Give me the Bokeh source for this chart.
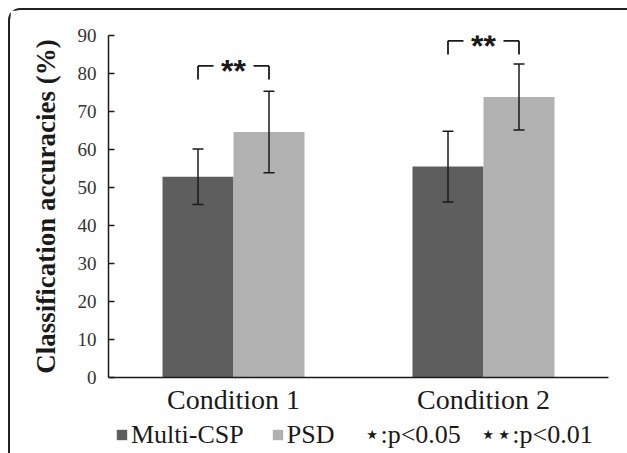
from bokeh.plotting import figure
from bokeh.layouts import column
from bokeh.models import (FactorRange, Range1d, ColumnDataSource, Whisker, TeeHead,
                          Legend, LegendItem)
from bokeh.transform import dodge
from bokeh.core.properties import value
from bokeh.embed import file_html
from bokeh.resources import INLINE

# ---------------- data ----------------
conditions = ["Condition 1", "Condition 2"]
series_names = ["Multi-CSP", "PSD"]
multi_csp_mean = [52.8, 55.5]
multi_csp_sd = [7.3, 9.3]
psd_mean = [64.6, 73.8]
psd_sd = [10.7, 8.7]
sig_level = [82.0, 88.6]
sig_marks = ["**", "**"]
y_ticks = [0, 10, 20, 30, 40, 50, 60, 70, 80, 90]
y_label = "Classification accuracies (%)"
legend_note = "\u22c6:p<0.05\u00a0\u00a0\u00a0\u22c6\u22c6:p<0.01"

# ---------------- styles ----------------
DARK = "#5e5e5e"
LIGHT = "#b1b1b1"
INK = "#1a1a1a"
SERIF = "Liberation Serif"
OFF = 0.142      # dodge offset of each bar from the category centre
BAR_W = 0.284
LEG = 3.6        # bracket leg length (data units)
GAP = 0.08       # half gap in bracket around the stars
NAN = float("nan")

src = ColumnDataSource(dict(
    cond=conditions,
    m1=multi_csp_mean,
    m1_lo=[m - s for m, s in zip(multi_csp_mean, multi_csp_sd)],
    m1_hi=[m + s for m, s in zip(multi_csp_mean, multi_csp_sd)],
    m2=psd_mean,
    m2_lo=[m - s for m, s in zip(psd_mean, psd_sd)],
    m2_hi=[m + s for m, s in zip(psd_mean, psd_sd)],
    sig=sig_level,
    sig_leg=[s - LEG for s in sig_level],
    mark=sig_marks,
))

p = figure(width=617, height=407,
           x_range=FactorRange(*conditions), y_range=Range1d(0, 90),
           output_backend="svg", toolbar_location=None,
           min_border_left=98, min_border_right=19,
           min_border_top=25, min_border_bottom=39)

p.vbar(x=dodge("cond", -OFF, range=p.x_range), top="m1", width=BAR_W,
       source=src, fill_color=DARK, line_color=None)
p.vbar(x=dodge("cond", OFF, range=p.x_range), top="m2", width=BAR_W,
       source=src, fill_color=LIGHT, line_color=None)

for off, lo, hi in [(-OFF, "m1_lo", "m1_hi"), (OFF, "m2_lo", "m2_hi")]:
    w = Whisker(source=src, base=dodge("cond", off, range=p.x_range),
                lower=lo, upper=hi, dimension="height", level="overlay",
                line_color=INK, line_width=1.5,
                lower_head=TeeHead(size=11, line_color=INK, line_width=1.5),
                upper_head=TeeHead(size=11, line_color=INK, line_width=1.5))
    p.add_layout(w)

# significance brackets
for a in (-OFF, OFF):
    p.segment(x0=dodge("cond", a, range=p.x_range), y0="sig",
              x1=dodge("cond", a, range=p.x_range), y1="sig_leg",
              source=src, line_color=INK, line_width=1.8)
p.segment(x0=dodge("cond", -OFF, range=p.x_range), y0="sig",
          x1=dodge("cond", -GAP, range=p.x_range), y1="sig",
          source=src, line_color=INK, line_width=1.8)
p.segment(x0=dodge("cond", GAP, range=p.x_range), y0="sig",
          x1=dodge("cond", OFF, range=p.x_range), y1="sig",
          source=src, line_color=INK, line_width=1.8)
p.text(x="cond", y="sig", text="mark", source=src,
       text_font=value("Liberation Sans"), text_font_style="bold",
       text_font_size="32px", text_color=INK, text_align="center",
       text_baseline="alphabetic", y_offset=5)

# axes
p.xgrid.visible = False
p.ygrid.visible = False
p.outline_line_color = None

p.yaxis.ticker = y_ticks
p.yaxis.axis_line_color = INK
p.yaxis.axis_line_width = 1.5
p.yaxis.major_tick_in = 6
p.yaxis.major_tick_out = 0
p.yaxis.major_tick_line_color = INK
p.yaxis.major_tick_line_width = 1.5
p.yaxis.minor_tick_line_color = None
p.yaxis.major_label_text_font = SERIF
p.yaxis.major_label_text_font_size = "19px"
p.yaxis.major_label_text_color = "#333333"
p.yaxis.major_label_standoff = 12
p.yaxis.axis_label = y_label
p.yaxis.axis_label_text_font = SERIF
p.yaxis.axis_label_text_font_style = "bold"
p.yaxis.axis_label_text_font_size = "27px"
p.yaxis.axis_label_text_color = INK
p.yaxis.axis_label_standoff = 14

p.xaxis.axis_line_color = INK
p.xaxis.axis_line_width = 1.5
p.xaxis.major_tick_in = 0
p.xaxis.major_tick_out = 0
p.xaxis.major_label_text_font = SERIF
p.xaxis.major_label_text_font_size = "28px"
p.xaxis.major_label_text_color = INK
p.xaxis.major_label_standoff = 6

# ---------------- legend strip ----------------
lg = figure(width=617, height=36, x_range=Range1d(0, 1), y_range=Range1d(0, 1),
            output_backend="svg", toolbar_location=None,
            x_axis_type=None, y_axis_type=None, min_border=0)
lg.xgrid.visible = False
lg.ygrid.visible = False
lg.outline_line_color = None
# legend proxies (no drawn marks of their own)
lr1 = lg.vbar(x=[NAN], top=[NAN], width=0.1, fill_color=DARK, line_color=None)
lr2 = lg.vbar(x=[NAN], top=[NAN], width=0.1, fill_color=LIGHT, line_color=None)
lr3 = lg.scatter(x=[NAN], y=[NAN], alpha=0)
legend = Legend(items=[
    LegendItem(label=value(series_names[0] + "\u00a0\u00a0"), renderers=[lr1]),
    LegendItem(label=value(series_names[1]), renderers=[lr2]),
    LegendItem(label=value(legend_note), renderers=[lr3]),
], orientation="horizontal", location=(7, 3),
    glyph_width=13, glyph_height=13, label_standoff=3, spacing=14,
    padding=0, margin=0, border_line_color=None, background_fill_alpha=0,
    label_text_font=SERIF, label_text_font_size="26px", label_text_color=INK)
lg.add_layout(legend)

layout = column(p, lg, spacing=0)
layout.styles = {"margin-left": "8px", "margin-top": "8px",
                 "border-left": "2px solid #222", "border-top": "2px solid #222",
                 "border-top-left-radius": "12px"}

open("out.html", "w").write(file_html(layout, INLINE))
